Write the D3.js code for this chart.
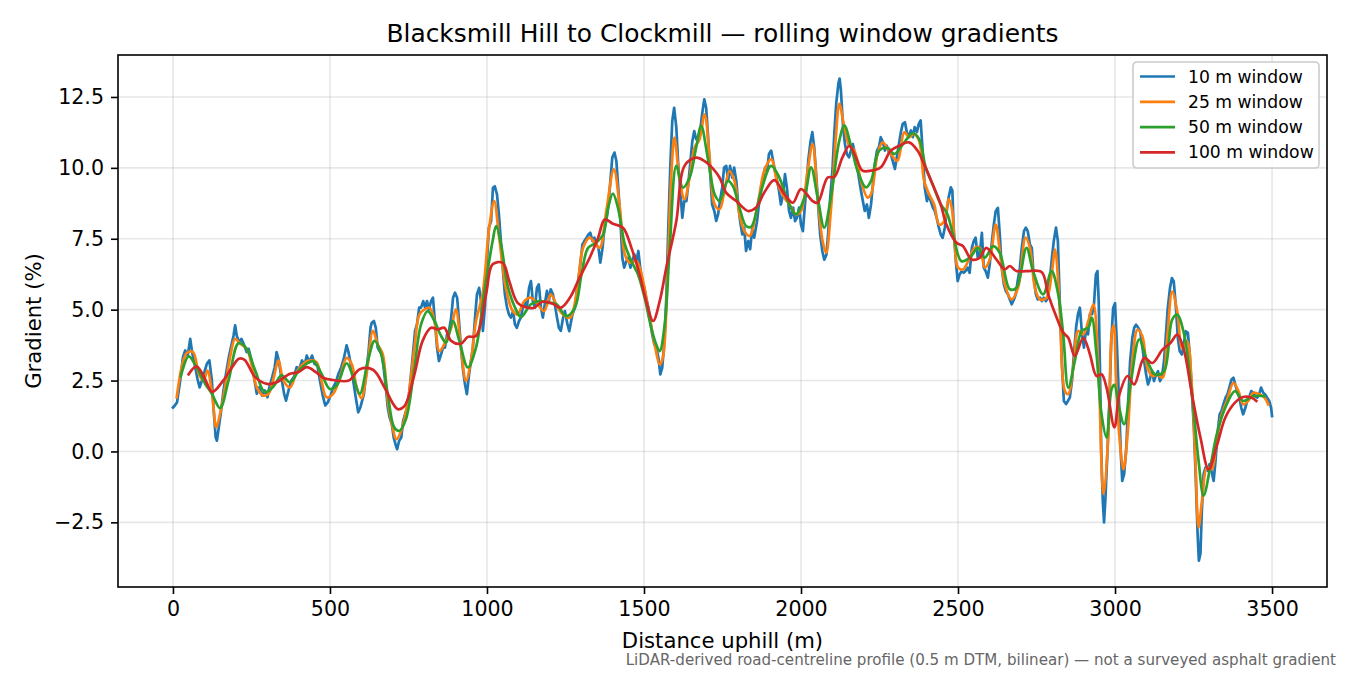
<!DOCTYPE html>
<html>
<head>
<meta charset="utf-8">
<script src="https://cdn.jsdelivr.net/npm/d3@7"></script>
<style>
  html, body { margin: 0; padding: 0; background: #fff; }
  svg { display: block; font-family: "DejaVu Sans", sans-serif; }
</style>
</head>
<body>
<svg id="chart" width="1350" height="675"></svg>
<script>
// distance uphill (m), gradient (%)
const win10 = [[0,1.55],[6,1.62],[13,1.73],[23,2.5],[32,3.33],[39,3.56],[47,3.38],[55,3.97],[61,3.5],[71,2.97],[78,2.56],[85,2.26],[92,2.5],[100,2.8],[108,3.09],[116,3.21],[124,2.5],[129,1.56],[136,0.5],[140,0.38],[146,0.85],[152,1.32],[161,2.15],[169,2.74],[178,3.33],[187,3.8],[193,4.09],[198,4.45],[203,4.09],[210,3.86],[218,3.97],[227,3.74],[235,3.5],[241,3.62],[250,3.21],[258,2.62],[267,2.03],[275,2.26],[284,1.97],[292,2.15],[301,1.91],[307,2.26],[316,2.62],[324,2.97],[330,3.5],[337,3.21],[345,2.62],[354,2.03],[360,1.79],[368,2.15],[377,2.5],[385,2.62],[394,2.97],[402,2.91],[411,3.21],[419,3.03],[426,3.38],[434,3.15],[443,3.38],[451,3.09],[460,3.03],[468,2.5],[477,1.97],[485,1.62],[493,1.73],[502,1.97],[510,2.26],[519,2.44],[527,2.74],[536,2.97],[544,3.27],[553,3.74],[559,3.5],[565,3.15],[574,2.5],[582,1.91],[590,1.38],[597,1.56],
  [608,2.02],[615,2.72],[623,3.54],[629,4.36],[633,4.54],[640,4.6],[646,4.36],[652,3.66],[658,3.54],[665,3.43],[671,2.96],[678,2.25],[684,1.55],[690,1.2],[697,0.96],[703,0.49],[710,0.2],[714,0.08],[720,0.37],[727,0.49],[733,1.08],[739,1.31],[746,1.55],[752,2.02],[758,2.72],[765,3.54],[771,4.25],[777,4.48],[784,5.07],[790,5.07],[797,5.3],[803,5.07],[809,5.3],[815,5.01],[822,5.3],[828,5.42],[835,4.48],[841,3.66],[847,3.19],[854,3.43],[860,3.66],[866,3.66],[873,4.13],[879,4.25],[886,4.72],[892,5.42],[898,5.6],[905,5.42],[911,4.6],[917,3.66],[924,2.84],[930,2.37],[936,2.02],[943,2.72],[949,3.19],[955,3.66],[962,4.72],[968,5.54],[975,5.77],[981,5.3],[987,4.25],[994,5.19],[1000,6.71],[1006,7.89],[1013,8.12],[1019,9.3],[1025,9.35],[1032,9.06],[1038,8.36],[1045,7.3],[1051,6.36],[1057,5.54],[1064,5.07],[1070,4.83],[1076,4.72],[1083,4.95],[1089,4.48],[1095,4.36],[1102,4.6],[1108,4.72],[1114,5.07],[1121,5.3],[1127,5.07],[1134,5.77],[1140,6.01],[1146,5.3],[1153,5.07],[1159,5.77],[1165,5.89],[1172,5.07],[1178,4.72],[1184,5.19],[1191,5.66],[1197,5.3],[1203,5.72],[1210,5.54],[1216,5.19],[1223,4.72],[1229,4.36],[1235,4.25],
  [1242,4.7],[1248,4.95],[1256,4.5],[1262,4.24],[1272,4.83],[1280,5.07],[1287,5.77],[1296,6.48],[1304,7.3],[1310,7.42],[1317,7.54],[1323,7.65],[1329,7.71],[1336,7.42],[1342,7.54],[1348,7.3],[1355,7.18],[1361,6.66],[1368,7.18],[1374,7.89],[1380,8.13],[1387,8.71],[1393,9.54],[1399,10.36],[1406,10.54],[1412,10.24],[1418,9.3],[1425,8.13],[1431,6.83],[1437,6.48],[1444,6.71],[1450,6.83],[1457,6.48],[1463,6.71],[1469,6.95],[1476,6.71],[1482,7.07],[1488,6.48],[1495,6.01],[1501,5.77],[1507,5.42],[1514,5.07],[1520,4.6],[1526,4.13],[1533,3.77],[1539,3.66],[1546,3.3],[1552,2.72],[1558,2.95],[1565,3.89],[1571,5.42],[1577,7.77],[1584,10.12],[1590,11.65],[1596,12.12],[1603,11.42],[1609,10.12],[1615,9.3],[1622,8.24],[1628,8.83],[1635,8.83],[1641,9.42],[1647,10.12],[1654,10.95],[1660,11.3],[1666,11.01],[1673,11.12],[1679,11.3],[1685,11.89],[1692,12.42],[1698,12.12],[1705,10.95],[1711,9.77],[1717,8.71],[1724,8.48],[1730,8.13],[1736,8.36],[1742,8.83],[1749,9.3],[1755,10.01],[1762,10.07],[1768,9.54],[1774,10.07],[1781,9.65],[1787,10.01],[1794,9.54],[1800,8.71],[1806,8.13],[1813,7.65],[1819,7.89],[1825,7.07],[1832,7.42],[1838,7.13],[1845,7.89],[1851,7.54],
  [1860,8.12],[1866,8.71],[1873,9.19],[1879,9.66],[1886,10.02],[1892,9.9],[1898,10.49],[1905,10.61],[1911,10.25],[1917,9.9],[1924,9.54],[1930,9.19],[1936,8.71],[1943,9.07],[1949,9.78],[1955,9.31],[1962,8.48],[1968,8.24],[1975,8.6],[1981,8.12],[1987,8.24],[1994,8.6],[2000,8.0],[2006,7.77],[2011,8.48],[2017,9.31],[2023,10.25],[2030,10.9],[2036,11.26],[2042,10.73],[2049,9.66],[2055,8.6],[2061,7.65],[2068,7.06],[2074,6.76],[2081,6.94],[2087,7.77],[2093,8.95],[2100,9.9],[2106,11.2],[2112,12.26],[2119,12.97],[2123,13.15],[2127,12.74],[2134,11.44],[2140,10.84],[2146,10.49],[2153,10.37],[2159,10.61],[2165,10.84],[2172,10.49],[2178,10.13],[2184,9.66],[2191,9.19],[2197,8.83],[2203,8.48],[2210,8.71],[2216,8.24],[2223,8.71],[2229,9.42],[2235,10.13],[2242,10.61],[2248,10.73],[2254,11.08],[2261,10.9],[2267,10.61],[2273,10.78],[2280,10.55],[2286,10.49],[2292,10.25],[2299,9.96],[2305,10.37],[2312,10.84],[2318,11.26],[2324,11.55],[2331,11.61],[2337,11.26],[2343,11.08],[2350,11.32],[2356,11.08],[2362,11.44],[2369,11.26],[2375,11.55],[2381,11.67],[2388,10.49],[2394,9.31],[2401,8.83],[2407,9.07],[2413,8.83],[2420,8.6],[2426,8.48],[2432,8.24],[2439,7.89],[2445,7.65],[2451,7.53],[2458,7.89],[2464,8.48],[2470,8.95],[2477,9.31],
  [2482,9.2],[2486,7.89],[2493,6.71],[2499,6.01],[2505,6.24],[2512,6.36],[2518,6.3],[2524,6.36],[2531,6.48],[2537,6.3],[2544,7.18],[2550,7.42],[2556,7.54],[2563,6.83],[2569,6.95],[2576,7.71],[2582,6.48],[2588,6.36],[2595,6.13],[2601,6.6],[2607,7.3],[2614,8.0],[2620,8.47],[2627,8.59],[2633,7.65],[2639,6.48],[2646,5.89],[2652,5.66],[2659,5.54],[2665,5.36],[2671,5.19],[2678,5.36],[2684,5.54],[2690,6.01],[2697,6.48],[2703,7.18],[2710,7.77],[2716,7.89],[2722,7.77],[2729,7.3],[2735,7.18],[2741,6.13],[2748,5.54],[2754,5.36],[2761,5.42],[2767,5.3],[2773,5.42],[2780,5.3],[2786,5.42],[2793,6.13],[2799,6.83],[2805,7.42],[2812,7.89],[2818,7.42],[2824,5.3],[2831,3.08],[2837,1.78],[2844,1.67],[2850,1.78],[2856,1.9],[2863,2.49],[2869,3.43],[2876,4.37],[2882,4.84],[2888,5.07],[2895,4.13],[2901,3.66],[2907,4.25],[2914,4.13],[2920,4.84],[2927,4.84],[2933,5.19],[2939,6.24],[2944,6.36],[2948,5.3],[2952,2.96],[2956,0.02],[2961,-1.74],[2965,-2.5],[2969,-1.74],[2976,0.02],[2982,1.78],[2988,3.9],[2994,5.06],[3000,5.23],
  [3006,3.77],[3013,1.66],[3019,-0.22],[3023,-1.04],[3029,-0.8],[3036,0.14],[3042,1.78],[3048,3.18],[3055,4.0],[3061,4.36],[3067,4.47],[3074,4.36],[3080,4.24],[3086,3.77],[3093,3.18],[3099,2.71],[3105,2.36],[3112,2.6],[3118,2.83],[3124,2.48],[3131,2.71],[3137,2.83],[3143,2.48],[3149,2.6],[3156,3.18],[3162,4.12],[3168,5.06],[3175,5.76],[3181,6.11],[3187,6.0],[3194,5.06],[3200,4.0],[3206,3.53],[3213,3.42],[3219,3.77],[3225,4.24],[3232,4.18],[3238,3.42],[3244,2.25],[3251,0.84],[3257,-0.92],[3263,-2.92],[3267,-3.85],[3272,-3.61],[3276,-2.21],[3282,-0.8],[3288,-0.57],[3295,-0.68],[3301,-0.45],[3307,-0.68],[3314,-1.04],[3320,-0.33],[3326,0.6],[3333,1.31],[3339,1.43],[3345,1.66],[3352,1.9],[3358,2.01],[3364,2.25],[3371,2.54],[3377,2.6],[3383,2.36],[3389,2.13],[3396,1.9],[3402,1.54],[3408,1.31],[3415,1.54],[3421,1.78],[3427,1.9],[3434,2.13],[3440,2.07],[3446,1.95],[3453,1.9],[3459,2.01],[3465,2.25],[3472,2.07],[3478,2.01],[3484,1.9],[3491,1.78],[3497,1.54],[3500,1.25]];

const win25 = [[12,1.91],[29,3.03],[44,3.47],[64,3.5],[82,2.74],[97,2.5],[110,2.85],[124,2.09],[138,0.85],[150,1.32],[166,2.26],[182,3.33],[198,3.97],[214,3.8],[235,3.62],[251,3.03],[267,2.26],[288,1.97],[304,2.03],[320,2.56],[336,3.21],[352,2.5],[373,2.26],[394,2.8],[415,3.09],[436,3.21],[457,3.15],[473,2.5],[489,1.91],[510,2.03],[532,2.62],[553,3.3],[569,3.09],[585,2.26],[600,1.88],
  [615,2.6],[637,4.25],[652,3.78],[668,3.43],[684,1.78],[700,0.84],[711,0.43],[727,0.73],[748,1.78],[769,3.66],[785,4.83],[801,5.01],[817,5.07],[833,4.6],[848,3.54],[864,3.78],[886,4.36],[901,5.01],[917,3.66],[933,2.49],[949,3.19],[965,4.6],[986,5.54],[1007,7.89],[1023,8.83],[1039,7.53],[1060,5.77],[1082,4.95],[1097,4.83],[1119,5.3],[1140,5.42],[1161,5.19],[1182,4.95],[1203,5.54],[1225,5.07],
  [1242,4.83],[1264,4.71],[1285,5.54],[1306,7.18],[1327,7.54],[1343,7.36],[1359,7.18],[1380,8.48],[1404,9.95],[1423,8.6],[1439,6.95],[1454,6.66],[1476,6.71],[1492,6.24],[1513,5.07],[1534,3.77],[1550,3.07],[1560,3.3],[1576,6.6],[1587,9.77],[1597,11.07],[1613,9.65],[1629,8.89],[1645,9.65],[1661,10.71],[1677,11.01],[1693,11.89],[1709,10.36],[1725,8.71],[1741,8.54],[1756,9.18],[1772,9.89],[1788,9.54],[1804,8.36],[1820,7.77],[1836,7.6],
  [1862,8.71],[1883,9.9],[1905,10.31],[1926,9.42],[1947,8.95],[1963,8.71],[1984,8.36],[2000,8.48],[2021,9.9],[2037,10.84],[2053,8.95],[2069,7.41],[2080,7.0],[2095,8.48],[2111,11.08],[2122,12.26],[2138,11.44],[2154,10.78],[2170,10.61],[2191,9.54],[2212,8.95],[2223,9.07],[2244,10.49],[2260,10.9],[2286,10.49],[2307,10.25],[2329,11.26],[2344,11.08],[2360,11.2],[2376,10.96],[2392,9.54],[2408,9.07],[2424,8.71],[2440,8.0],[2456,8.12],[2470,8.9],
  [2480,8.6],[2490,7.2],[2500,6.48],[2516,6.42],[2537,6.83],[2553,7.18],[2569,7.18],[2585,6.48],[2601,6.77],[2620,8.0],[2633,7.07],[2649,5.89],[2670,5.36],[2691,5.77],[2715,7.54],[2729,7.18],[2745,5.77],[2761,5.36],[2782,5.42],[2798,6.24],[2809,7.12],[2824,5.07],[2840,2.14],[2851,2.02],[2867,2.96],[2883,4.25],[2899,4.13],[2915,4.6],[2931,5.19],[2947,2.96],[2963,-1.5],[2979,0.61],[2990,4.2],[2996,4.45],
  [3003,2.6],[3014,0.49],[3027,-0.63],[3040,0.6],[3056,3.3],[3072,4.3],[3087,4.06],[3103,2.95],[3119,2.66],[3135,2.71],[3151,2.6],[3166,4.0],[3182,5.64],[3198,4.94],[3214,3.65],[3229,3.89],[3245,2.25],[3256,-0.33],[3266,-2.68],[3277,-1.74],[3293,-0.57],[3308,-0.63],[3324,0.49],[3340,1.31],[3356,1.78],[3377,2.42],[3393,2.13],[3408,1.66],[3424,1.78],[3440,2.07],[3461,2.01],[3476,1.9],[3488,1.66]];

const win50 = [[25,2.65],[50,3.35],[76,2.95],[103,2.38],[124,2.03],[150,1.53],[177,2.5],[209,3.82],[235,3.62],[262,2.85],[293,2.09],[320,2.29],[346,2.68],[373,2.44],[405,2.91],[447,3.18],[473,2.74],[500,2.2],[521,2.32],[553,3.11],[574,2.62],[595,2.03],[621,3.2],[642,3.9],[663,3.43],[684,2.02],[705,0.84],[721,0.73],[742,1.14],[769,2.96],[790,4.48],[811,4.95],[833,4.6],[854,4.07],[870,3.84],[891,4.6],[912,3.9],[939,2.96],[965,3.66],[992,5.66],[1018,7.42],[1029,7.95],[1045,7.3],[1066,5.84],[1092,5.01],[1108,4.74],[1140,5.19],[1166,5.3],[1193,5.25],[1221,5.19],[1253,4.77],[1280,5.07],[1301,6.24],[1322,7.18],[1348,7.36],[1370,7.65],[1386,8.6],[1401,9.09],[1417,8.6],[1439,7.3],[1460,6.71],[1481,6.24],[1502,5.42],[1523,4.36],[1539,3.77],[1550,3.54],[1566,4.48],[1582,7.18],[1603,10.07],[1624,9.3],[1645,9.65],[1666,10.71],[1682,11.48],[1703,10.36],[1725,9.07],[1741,8.83],[1767,9.54],[1783,9.36],[1804,8.6],[1825,7.95],[1841,7.92],[1873,9.19],[1905,10.07],[1931,9.66],[1958,8.83],[1984,8.36],[2011,8.95],[2032,10.02],[2053,8.95],[2074,7.89],[2095,8.95],[2122,10.96],[2138,11.49],[2159,10.78],[2180,9.9],[2207,9.31],[2223,9.54],[2249,10.61],[2276,10.7],[2297,10.49],[2329,10.9],[2355,11.22],[2376,11.02],[2397,10.02],[2419,9.42],[2445,8.71],[2465,8.4],[2484,7.65],[2511,6.71],[2537,6.83],[2564,7.18],[2585,6.83],[2612,7.24],[2633,7.0],[2665,5.72],[2686,5.77],[2718,7.18],[2739,6.36],[2771,5.54],[2798,6.36],[2819,5.54],[2835,4.13],[2851,2.25],[2872,3.19],[2894,4.25],[2915,4.37],[2926,4.72],[2941,3.43],[2957,1.31],[2973,0.49],[2989,2.2],[2998,2.35],[3012,1.6],[3029,0.96],[3051,2.48],[3077,3.95],[3103,3.18],[3129,2.71],[3156,2.83],[3182,4.65],[3198,4.82],[3219,4.18],[3245,2.01],[3266,-0.33],[3282,-1.56],[3303,-0.57],[3324,0.6],[3351,1.54],[3382,2.13],[3408,1.78],[3440,1.95],[3475,1.95]];

const win100 = [[50,2.72],[75,3.0],[100,2.6],[125,2.1],[160,2.5],[190,3.0],[210,3.27],[228,3.23],[262,2.62],[300,2.38],[330,2.44],[373,2.74],[400,2.8],[426,2.97],[455,2.8],[480,2.59],[510,2.52],[560,2.5],[595,2.9],[637,2.88],[674,2.25],[700,1.7],[716,1.49],[737,1.6],[769,2.72],[795,3.9],[822,4.36],[843,4.3],[864,4.36],[886,3.9],[917,3.8],[939,4.04],[965,4.07],[997,5.54],[1018,6.6],[1050,6.65],[1071,6.0],[1097,5.25],[1129,5.07],[1150,5.07],[1177,5.28],[1209,5.21],[1235,5.07],[1264,5.42],[1295,6.13],[1327,6.83],[1354,7.54],[1375,8.18],[1401,8.03],[1433,7.89],[1460,7.18],[1486,6.24],[1507,5.3],[1529,4.6],[1550,5.3],[1571,6.48],[1603,8.13],[1629,10.07],[1666,10.36],[1693,10.24],[1719,9.98],[1741,9.65],[1762,9.12],[1794,8.83],[1831,8.48],[1857,8.6],[1883,9.13],[1915,9.57],[1947,9.07],[1974,8.77],[2000,9.25],[2037,8.83],[2053,8.77],[2085,9.66],[2106,9.68],[2132,10.37],[2154,10.78],[2175,10.37],[2196,9.9],[2223,9.9],[2254,10.02],[2286,10.61],[2313,10.78],[2344,10.9],[2371,10.61],[2392,10.13],[2419,9.42],[2445,8.71],[2463,8.0],[2495,7.36],[2516,7.24],[2543,6.77],[2569,6.83],[2590,7.18],[2622,6.77],[2649,6.42],[2665,6.54],[2686,6.36],[2718,6.36],[2766,6.33],[2787,5.54],[2814,4.72],[2835,4.19],[2851,4.01],[2872,3.37],[2899,4.01],[2920,3.43],[2941,2.66],[2957,2.72],[2973,2.25],[2998,0.85],[3014,2.01],[3040,2.66],[3061,2.36],[3093,3.3],[3119,3.12],[3151,3.59],[3177,3.83],[3198,4.12],[3219,3.59],[3245,2.01],[3272,0.49],[3298,-0.63],[3324,0.19],[3351,1.19],[3382,1.72],[3408,1.92],[3435,1.89],[3450,1.78]];

const seriesLabels = ["10 m window", "25 m window", "50 m window", "100 m window"];
const xTicks = [0, 500, 1000, 1500, 2000, 2500, 3000, 3500];
const yTicks = [-2.5, 0, 2.5, 5, 7.5, 10, 12.5];

const colors = ["#1f77b4", "#ff7f0e", "#2ca02c", "#d62728"];
const series = [win10, win25, win50, win100];

const W = 1350, H = 675;
const margin = { left: 118, right: 23, top: 55, bottom: 88 };
const plotW = W - margin.left - margin.right;
const plotH = H - margin.top - margin.bottom;

const x = d3.scaleLinear().domain([-175, 3675]).range([margin.left, margin.left + plotW]);
const y = d3.scaleLinear().domain([-4.78, 13.98]).range([margin.top + plotH, margin.top]);

const svg = d3.select("#chart");

// grid
const grid = svg.append("g").attr("class", "grid");
grid.selectAll("line.gx").data(xTicks).enter().append("line")
  .attr("x1", (d) => x(d)).attr("x2", (d) => x(d))
  .attr("y1", margin.top).attr("y2", margin.top + plotH)
  .attr("stroke", "#b0b0b0").attr("stroke-opacity", 0.3).attr("stroke-width", 1.6);
grid.selectAll("line.gy").data(yTicks).enter().append("line")
  .attr("x1", margin.left).attr("x2", margin.left + plotW)
  .attr("y1", (d) => y(d)).attr("y2", (d) => y(d))
  .attr("stroke", "#b0b0b0").attr("stroke-opacity", 0.3).attr("stroke-width", 1.6);

// lines
svg.append("clipPath").attr("id", "clip").append("rect")
  .attr("x", margin.left).attr("y", margin.top).attr("width", plotW).attr("height", plotH);

const lineLinear = d3.line().x((d) => x(d[0])).y((d) => y(d[1]));
const lineSmooth = d3.line().x((d) => x(d[0])).y((d) => y(d[1])).curve(d3.curveCatmullRom.alpha(0.5));

const lineLayer = svg.append("g").attr("clip-path", "url(#clip)");
series.forEach((s, i) => {
  lineLayer.append("path")
    .attr("d", i === 0 ? lineLinear(s) : lineSmooth(s))
    .attr("fill", "none")
    .attr("stroke", colors[i])
    .attr("stroke-width", 2.7)
    .attr("stroke-linejoin", "round")
    .attr("stroke-linecap", "square");
});

// axes
const fmtY = (d) => d3.format(".1f")(d).replace("-", "\u2212");
const xAxis = svg.append("g")
  .attr("transform", `translate(0,${margin.top + plotH})`)
  .call(d3.axisBottom(x).tickValues(xTicks).tickSize(7).tickPadding(6).tickFormat(d3.format("d")));
const yAxis = svg.append("g")
  .attr("transform", `translate(${margin.left},0)`)
  .call(d3.axisLeft(y).tickValues(yTicks).tickSize(7).tickPadding(7).tickFormat(fmtY));

[xAxis, yAxis].forEach((ax) => {
  ax.select(".domain").remove();
  ax.selectAll(".tick line").attr("stroke", "#000").attr("stroke-width", 1.6);
  ax.selectAll(".tick text").attr("fill", "#000").attr("font-size", 20.6).attr("font-family", "DejaVu Sans");
});
xAxis.selectAll(".tick text").attr("dy", "0.78em");

// frame
svg.append("rect")
  .attr("x", margin.left).attr("y", margin.top).attr("width", plotW).attr("height", plotH)
  .attr("fill", "none").attr("stroke", "#000").attr("stroke-width", 1.6);

// title + labels
svg.append("text").attr("x", margin.left + plotW / 2).attr("y", 42)
  .attr("text-anchor", "middle").attr("font-size", 24.9).attr("fill", "#000")
  .text("Blacksmill Hill to Clockmill \u2014 rolling window gradients");
svg.append("text").attr("x", margin.left + plotW / 2).attr("y", 648)
  .attr("text-anchor", "middle").attr("font-size", 21.2).attr("fill", "#000")
  .text("Distance uphill (m)");
svg.append("text").attr("transform", `translate(41,${margin.top + plotH / 2}) rotate(-90)`)
  .attr("text-anchor", "middle").attr("font-size", 21.2).attr("fill", "#000")
  .text("Gradient (%)");
svg.append("text").attr("x", 1336).attr("y", 665)
  .attr("text-anchor", "end").attr("font-size", 15.1).attr("fill", "#666")
  .text("LiDAR-derived road-centreline profile (0.5 m DTM, bilinear) \u2014 not a surveyed asphalt gradient");

// legend
const legend = svg.append("g").attr("transform", "translate(1133,62)");
legend.append("rect").attr("width", 186).attr("height", 106).attr("rx", 4)
  .attr("fill", "#fff").attr("fill-opacity", 0.8).attr("stroke", "#ccc").attr("stroke-width", 1.6);
seriesLabels.forEach((label, i) => {
  const row = legend.append("g").attr("transform", `translate(0,${14.5 + i * 25.3})`);
  row.append("line").attr("x1", 7).attr("x2", 42).attr("y1", 0).attr("y2", 0)
    .attr("stroke", colors[i]).attr("stroke-width", 2.7);
  row.append("text").attr("x", 55).attr("y", 0).attr("dy", "0.35em")
    .attr("font-size", 17.2).attr("fill", "#000").text(label);
});
</script>
</body>
</html>
